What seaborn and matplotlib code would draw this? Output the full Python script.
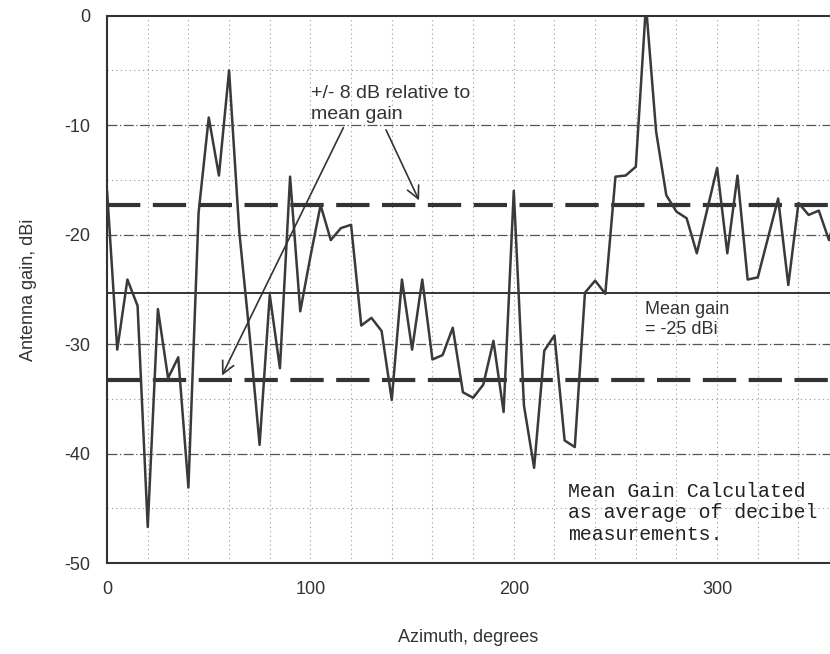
import matplotlib
matplotlib.use("Agg")
from matplotlib import pyplot as plt
import pandas as pd
import seaborn as sns

azimuth = list(range(0, 365, 5))
gain = [-16.0, -30.5, -24.1, -26.5, -46.7, -26.8, -33.1, -31.2, -43.1, -18.0,
        -9.3, -14.6, -5.0, -19.7, -29.0, -39.2, -25.5, -32.2, -14.7, -27.0,
        -22.0, -17.3, -20.5, -19.4, -19.1, -28.3, -27.6, -28.8, -35.1, -24.1,
        -30.5, -24.1, -31.4, -31.0, -28.5, -34.4, -34.9, -33.7, -29.7, -36.2,
        -16.0, -35.6, -41.3, -30.6, -29.2, -38.8, -39.4, -25.3, -24.2, -25.4,
        -14.7, -14.6, -13.8, 1.0, -10.6, -16.4, -17.9, -18.5, -21.7, -17.8,
        -13.9, -21.7, -14.6, -24.1, -23.9, -20.3, -16.7, -24.6, -17.1, -18.2,
        -17.8, -20.5, -17.0]
mean_gain = -25.3
band = 8

x_ticks = [0, 100, 200, 300]
y_ticks = [0, -10, -20, -30, -40, -50]

df = pd.DataFrame({'Azimuth': azimuth, 'Gain': gain})

sns.set_style("white")
plt.rcParams['font.family'] = ['Liberation Sans', 'DejaVu Sans']
plt.rcParams['axes.unicode_minus'] = False

fig = plt.figure(figsize=(8.3, 6.54), dpi=100)
ax = fig.add_axes([0.129, 0.139, 0.871, 0.837])

ink = '#333333'

# grid: dash-dot every 10 dB, dotted every 5 dB and every 20 degrees
for y in range(-45, 0, 5):
    if y % 10 == 0:
        ax.axhline(y, color='#555555', lw=0.9, ls=(0, (8, 2, 1, 2)), zorder=1)
    elif y != -25:
        ax.axhline(y, color='#999999', lw=0.8, ls=(0, (1, 3)), zorder=1)
for x in range(20, 360, 20):
    ax.axvline(x, color='#999999', lw=0.8, ls=(0, (1, 3)), zorder=1)

ax.axhline(mean_gain, color=ink, lw=1.4, zorder=2)
ax.axhline(mean_gain + band, color=ink, lw=3, ls=(0, (8, 3)), zorder=2)
ax.axhline(mean_gain - band, color=ink, lw=3, ls=(0, (8, 3)), zorder=2)

sns.lineplot(data=df, x='Azimuth', y='Gain', ax=ax, color='#3a3a3a', lw=1.8, zorder=3)

ax.set_xlim(0, 355.5)
ax.set_ylim(-50, 0)
ax.set_xticks(x_ticks)
ax.set_yticks(y_ticks)
ax.set_xticks(range(0, 360, 20), minor=True)
ax.tick_params(axis='both', which='both', direction='in', length=3, labelsize=13, colors=ink)
ax.tick_params(axis='x', pad=13)
ax.tick_params(axis='y', pad=12)
for s in ['left', 'bottom', 'top']:
    ax.spines[s].set_color(ink)
    ax.spines[s].set_linewidth(1.5)
ax.spines['right'].set_visible(False)

ax.set_xlabel('Azimuth, degrees', fontsize=13, labelpad=22, color=ink)
ax.set_ylabel('Antenna gain, dBi', fontsize=13, labelpad=20, color=ink)

# annotations
ax.text(100.5, -6.3, '+/- 8 dB relative to\nmean gain', fontsize=14, va='top',
        color=ink, linespacing=1.3)
arrow = dict(arrowstyle='->', lw=1.2, color=ink, mutation_scale=22)
ax.annotate('', xy=(55.9, -33.1), xytext=(116.8, -10.0), arrowprops=arrow)
ax.annotate('', xy=(154.0, -17.1), xytext=(136.6, -10.2), arrowprops=arrow)

ax.text(264.5, -26.1, 'Mean gain\n= -25 dBi', fontsize=13, va='top',
        color=ink, linespacing=1.2)
ax.text(226.5, -42.6, 'Mean Gain Calculated\nas average of decibel\nmeasurements.',
        fontsize=14.3, va='top', family=['Liberation Mono', 'DejaVu Sans Mono'],
        color='#222222', linespacing=1.15)

plt.savefig('out.png', dpi=100)
